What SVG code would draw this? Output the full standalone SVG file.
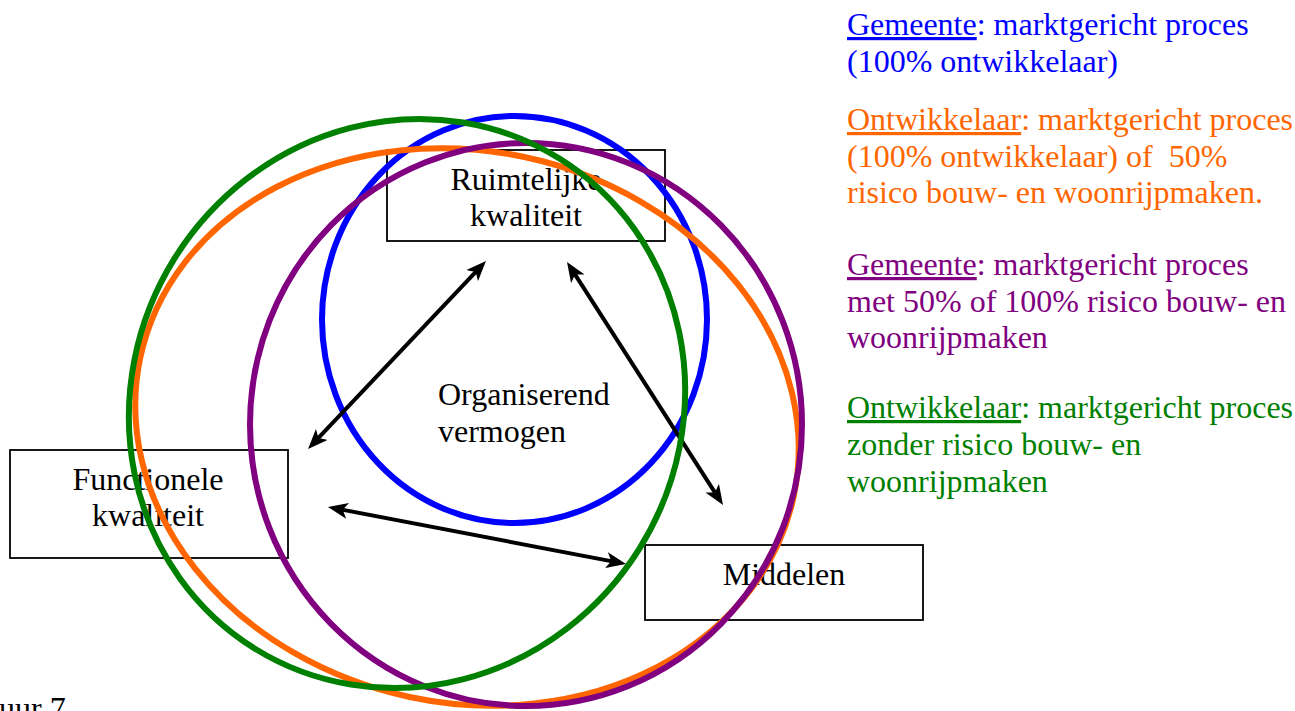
<svg xmlns="http://www.w3.org/2000/svg" width="1295" height="711" viewBox="0 0 1295 711">
  <style>
    text { font-family: "Liberation Serif", "Times New Roman", serif; font-size: 32px; }
    .box { fill: #ffffff; stroke: #000000; stroke-width: 1.8; }
    .ring { fill: none; stroke-width: 6; }
    .arrow { stroke: #000000; stroke-width: 4; fill: none; marker-start: url(#head); marker-end: url(#head); }
    .u { text-decoration: underline; }
  </style>
  <defs>
    <marker id="head" viewBox="0 0 20 16" markerWidth="20" markerHeight="16" refX="10" refY="8" orient="auto-start-reverse" markerUnits="userSpaceOnUse">
      <path d="M0,0 L20,8 L0,16 L5,8 Z" fill="#000000"/>
    </marker>
  </defs>
  <rect width="1295" height="711" fill="#ffffff"/>

  <g id="node-ruimtelijke">
    <rect class="box" x="387" y="150" width="278" height="91"/>
    <text x="526" y="190" text-anchor="middle">Ruimtelijke</text>
    <text x="526" y="226" text-anchor="middle">kwaliteit</text>
  </g>
  <g id="node-functionele">
    <rect class="box" x="10" y="450" width="278" height="108"/>
    <text x="148" y="490" text-anchor="middle">Functionele</text>
    <text x="148" y="526" text-anchor="middle">kwaliteit</text>
  </g>
  <g id="node-middelen">
    <rect class="box" x="645" y="545" width="278" height="75"/>
    <text x="784" y="585" text-anchor="middle">Middelen</text>
  </g>

  <g id="ring-blue">
    <ellipse class="ring" stroke="#0000ff" cx="514.5" cy="319.5" rx="192.5" ry="203.5"/>
  </g>

  <g id="connectors">
    <line class="arrow" x1="479.1" y1="268.3" x2="314.9" y2="441.7"/>
    <line class="arrow" x1="572.4" y1="270.4" x2="717.6" y2="496.6"/>
    <line class="arrow" x1="337.8" y1="508.9" x2="616.2" y2="562.1"/>
  </g>

  <g id="ring-orange">
    <ellipse class="ring" stroke="#ff6600" cx="467" cy="427" rx="334" ry="276" transform="rotate(12 467 427)"/>
  </g>
  <g id="ring-purple">
    <ellipse class="ring" stroke="#800080" cx="526" cy="424.5" rx="276" ry="281.5"/>
  </g>
  <g id="ring-green">
    <ellipse class="ring" stroke="#008000" cx="407" cy="403.5" rx="274" ry="288.5" transform="rotate(31.9 407 403.5)"/>
  </g>

  <g id="node-organiserend">
    <text x="438" y="405">Organiserend</text>
    <text x="438" y="442">vermogen</text>
  </g>

  <g id="legend">
    <text x="847" y="35" fill="#0000ff"><tspan class="u">Gemeente</tspan>: marktgericht proces</text>
    <text x="847" y="72" fill="#0000ff">(100% ontwikkelaar)</text>

    <text x="847" y="130" fill="#ff6600"><tspan class="u">Ontwikkelaar</tspan>: marktgericht proces</text>
    <text x="847" y="167" fill="#ff6600" xml:space="preserve">(100% ontwikkelaar) of  50%</text>
    <text x="847" y="203" fill="#ff6600">risico bouw- en woonrijpmaken.</text>

    <text x="847" y="275" fill="#800080"><tspan class="u">Gemeente</tspan>: marktgericht proces</text>
    <text x="847" y="312" fill="#800080">met 50% of 100% risico bouw- en</text>
    <text x="847" y="348" fill="#800080">woonrijpmaken</text>

    <text x="847" y="418" fill="#008000"><tspan class="u">Ontwikkelaar</tspan>: marktgericht proces</text>
    <text x="847" y="455" fill="#008000">zonder risico bouw- en</text>
    <text x="847" y="492" fill="#008000">woonrijpmaken</text>
  </g>

  <text x="-1" y="719">uur 7</text>
</svg>
